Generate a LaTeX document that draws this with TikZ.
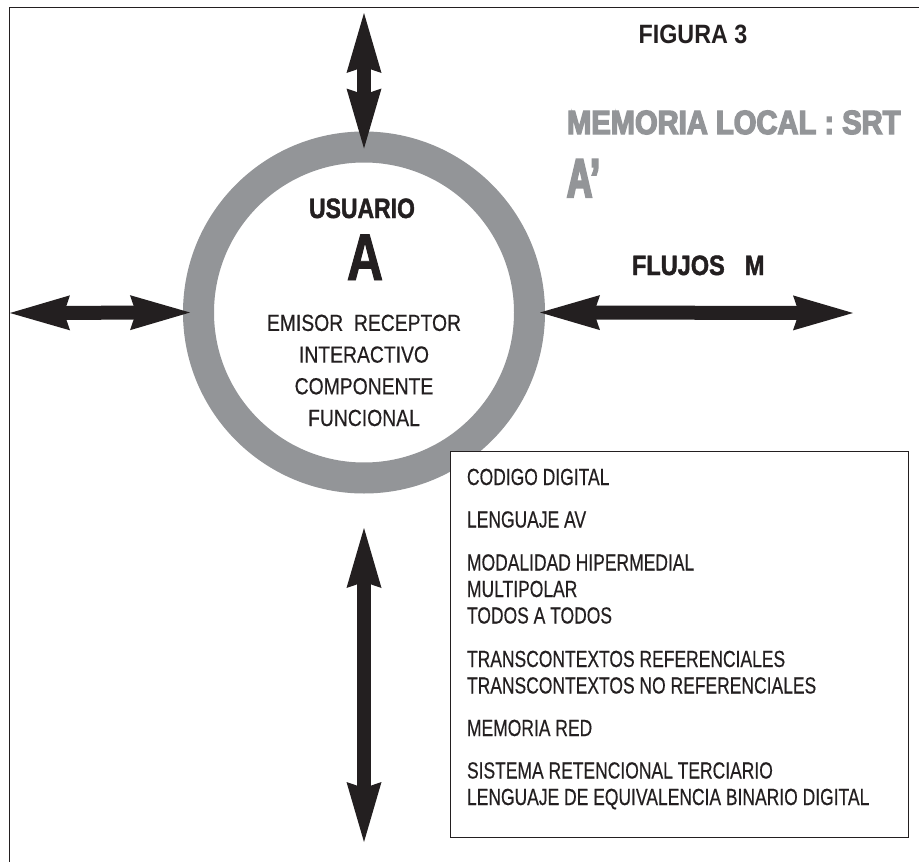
\documentclass[tikz,border=0pt]{standalone}
\usepackage{fontspec}
\setmainfont{Liberation Sans}
\newfontfamily\fxA{Liberation Sans}[FakeStretch=0.83, FakeBold=0.4]
\newfontfamily\fxH{Liberation Sans}[FakeStretch=0.82, BoldFeatures={FakeBold=1.5}]
\newfontfamily\fxB{Liberation Sans}[FakeStretch=0.75, FakeBold=0.4]
\newfontfamily\fxC{Liberation Sans}[FakeStretch=0.88]
\newfontfamily\fxD{Liberation Sans}[FakeStretch=0.76, BoldFeatures={FakeBold=1.5}]
\newfontfamily\fxF{Liberation Sans}[FakeStretch=0.84, BoldFeatures={FakeBold=1.5}]
\newfontfamily\fxG{Liberation Sans}[FakeStretch=0.87, BoldFeatures={FakeBold=4}]
\newfontfamily\fxE{Liberation Sans}[FakeStretch=0.64, BoldFeatures={FakeBold=4}]
\usetikzlibrary{arrows.meta}
\definecolor{ringgray}{RGB}{147,149,152}
\definecolor{ink}{RGB}{35,31,32}
\tikzset{
  headtip/.tip={Stealth[length=60pt,width=35pt,inset=6pt,line width=0pt]},
  dbl/.style={draw=ink, fill=ink, line width=14pt, headtip-headtip},
  txt/.style={inner sep=0pt, outer sep=0pt, text=ink},
  graytxt/.style={inner sep=0pt, outer sep=0pt, text=ringgray},
}
\begin{document}
\begin{tikzpicture}[x=1pt,y=-1pt]
\useasboundingbox (0,0) rectangle (919,862);
\fill[white] (0,0) rectangle (919,862);
% outer frame (cropped at right and bottom)
\draw[line width=1.3pt, draw=ink] (9.5,880) -- (9.5,7.5) -- (940,7.5);

% user ring
\node[circle, draw=ringgray, line width=31pt, minimum size=331pt, inner sep=0pt, outer sep=0pt] (user) at (364,312.5) {};

% free ends of the arrows
\coordinate (tt) at (364,13);
\coordinate (lt) at (10,313);
\coordinate (rt) at (853,313);
\coordinate (bt) at (364,528);
\coordinate (bb) at (364,842);

\draw[dbl] (tt) -- ([yshift=-1.5pt]user.north);
\draw[dbl] (lt) -- ([xshift=-8.5pt]user.west);
\draw[dbl] ([xshift=10.5pt]user.east) -- (rt);
\draw[dbl] (bt) -- (bb);

% texts in the ring
\node[txt, anchor=base, font=\fxH\bfseries\fontsize{28}{32}\selectfont] (usuario) at (362,218) {USUARIO};
\node[txt, anchor=base, font=\fxD\bfseries\fontsize{66}{70}\selectfont] (biga) at (365,280) {A};
\node[txt, anchor=base, align=center, font=\fxA\fontsize{23.3}{31.7}\selectfont] (role) at (364,426)
  {EMISOR\ \ RECEPTOR\\INTERACTIVO\\COMPONENTE\\FUNCIONAL};

% headings
\node[txt, anchor=base, font=\fxC\bfseries\fontsize{26.5}{30}\selectfont] (fig) at (693,43) {FIGURA 3};
\node[graytxt, anchor=base west, font=\fxG\bfseries\fontsize{33.5}{38}\selectfont] (mem) at (567,134) {MEMORIA LOCAL : SRT};
\node[graytxt, anchor=base west, font=\fxE\bfseries\fontsize{54.5}{60}\selectfont] (aprime) at (567,197) {A’};
\node[txt, anchor=base west, font=\fxF\bfseries\fontsize{28}{32}\selectfont] (flujos) at (632,275) {FLUJOS\hspace{20pt}M};

% info box
\node[draw=ink, fill=white, line width=1pt, minimum width=458pt, minimum height=386pt, anchor=north west, inner sep=0pt, outer sep=0pt] (info) at (450,451) {};
\node[txt, anchor=base west, align=left, font=\fxB\fontsize{23.3}{26.5}\selectfont] (infotext) at (467,805)
  {CODIGO DIGITAL\\[16pt]
   LENGUAJE AV\\[16.5pt]
   MODALIDAD HIPERMEDIAL\\
   MULTIPOLAR\\
   TODOS A TODOS\\[17pt]
   TRANSCONTEXTOS REFERENCIALES\\
   TRANSCONTEXTOS NO REFERENCIALES\\[16pt]
   MEMORIA RED\\[16pt]
   SISTEMA RETENCIONAL TERCIARIO\\
   LENGUAJE DE EQUIVALENCIA BINARIO DIGITAL};
\end{tikzpicture}
\end{document}
